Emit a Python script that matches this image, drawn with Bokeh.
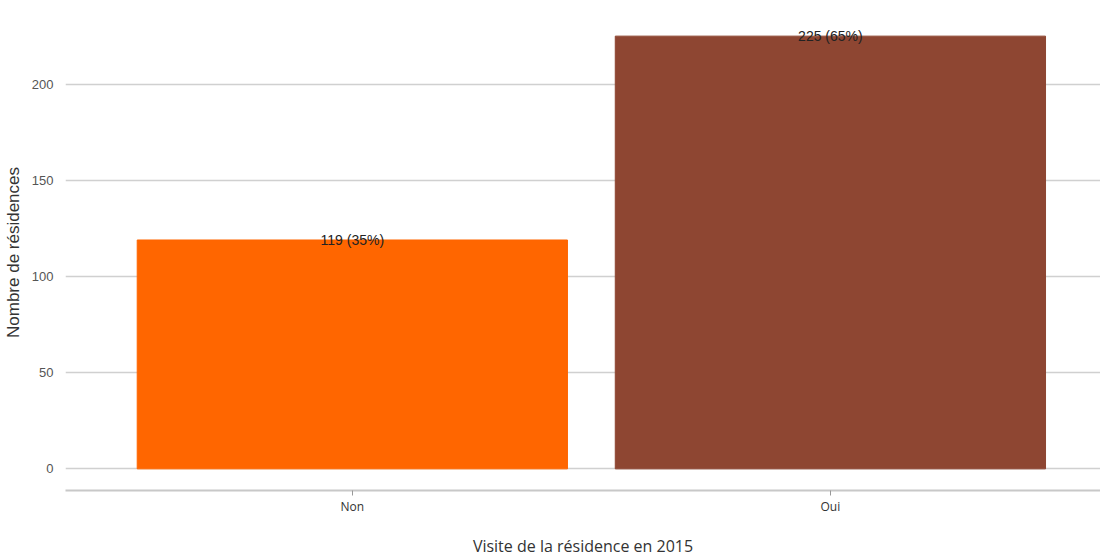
from bokeh.plotting import figure
from bokeh.models import ColumnDataSource, Range1d, FixedTicker
from bokeh.core.properties import value
from bokeh.embed import file_html
from bokeh.resources import INLINE

categories = ["Non", "Oui"]
counts = [119, 225]
colors = ["#FF6600", "#8E4632"]
y_ticks = [0, 50, 100, 150, 200]

total = sum(counts)
positions = list(range(1, len(categories) + 1))
labels = [f"{c} ({round(100 * c / total)}%)" for c in counts]

src = ColumnDataSource(dict(x=positions, top=counts, color=colors, label=labels))

p = figure(frame_width=1035, frame_height=476, output_backend="svg", toolbar_location=None,
           x_range=Range1d(0.4, 2.565), y_range=Range1d(-11.25, 236.25),
           min_border_left=59, min_border_right=0, min_border_top=14, min_border_bottom=60)
p.outline_line_color = None
p.background_fill_color = "white"

p.vbar(x="x", top="top", bottom=0, width=0.9, color="color", source=src)
p.text(x="x", y="top", text="label", source=src, text_align="center", text_baseline="middle",
       text_font=value("Liberation Sans"), text_font_size="14px", text_color="#222222")

p.xgrid.grid_line_color = None
p.ygrid.grid_line_color = "#d0d0d0"
p.ygrid.grid_line_width = 1.6
p.yaxis.ticker = FixedTicker(ticks=y_ticks)
p.xaxis.ticker = FixedTicker(ticks=positions)
p.xaxis.major_label_overrides = {pos: cat for pos, cat in zip(positions, categories)}
p.xaxis.minor_tick_line_color = None
p.yaxis.minor_tick_line_color = None

p.yaxis.axis_line_color = None
p.yaxis.major_tick_line_color = None
p.yaxis.major_label_standoff = 6
p.yaxis.major_label_text_font = "Liberation Sans"
p.yaxis.major_label_text_font_size = "13px"
p.yaxis.major_label_text_color = "#555555"
p.yaxis.axis_label = "Nombre de résidences"
p.yaxis.axis_label_text_font = "Liberation Sans"
p.yaxis.axis_label_text_font_style = "normal"
p.yaxis.axis_label_text_font_size = "17px"
p.yaxis.axis_label_text_color = "#333333"
p.yaxis.axis_label_standoff = 6

p.xaxis.axis_line_color = "#c8c8c8"
p.xaxis.axis_line_width = 2
p.xaxis.major_tick_line_color = "#999999"
p.xaxis.major_tick_in = 0
p.xaxis.major_tick_out = 5
p.xaxis.major_label_standoff = 2
p.xaxis.major_label_text_font = "Open Sans"
p.xaxis.major_label_text_font_size = "12px"
p.xaxis.major_label_text_color = "#333333"
p.xaxis.axis_label = "Visite de la résidence en 2015"
p.xaxis.axis_label_text_font = "Open Sans"
p.xaxis.axis_label_text_font_style = "normal"
p.xaxis.axis_label_text_font_size = "16px"
p.xaxis.axis_label_text_color = "#333333"
p.xaxis.axis_label_standoff = 17

open("out.html", "w").write(file_html(p, INLINE))
